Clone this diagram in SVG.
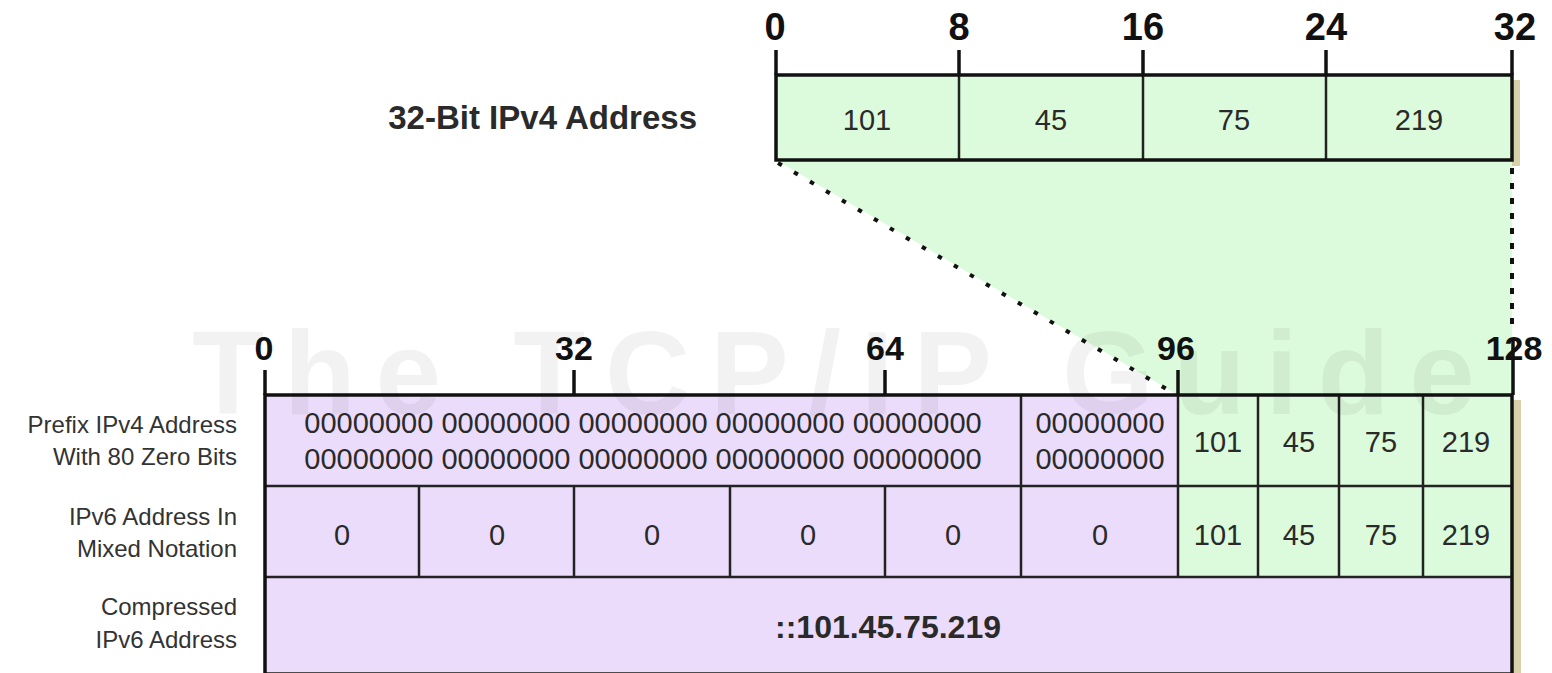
<svg xmlns="http://www.w3.org/2000/svg" width="1552" height="673" viewBox="0 0 1552 673">
  <style>
    text { font-family: "Liberation Sans", Arial, sans-serif; fill: #2a2a2a; }
    .bit { font-weight: bold; fill: #111; text-anchor: middle; }
    .bitTop { font-size: 38px; }
    .bitLow { font-size: 34px; }
    .val { font-size: 29px; text-anchor: middle; }
    .zero { font-size: 29px; text-anchor: middle; }
    .side { font-size: 24px; text-anchor: end; fill: #333; }
    .green { fill: #dcfadc; }
    .purple { fill: #ebdcfb; }
    .shadow { fill: #d8d0a8; }
    .frame { stroke: #111; stroke-width: 3.5; fill: none; }
    .div { stroke: #222; stroke-width: 2.5; fill: none; }
    .tick { stroke: #111; stroke-width: 3.5; }
    .dots { stroke: #111; stroke-width: 4; fill: none; }
    .mark { font-size: 118px; font-weight: bold; fill: #000; fill-opacity: 0.05; }
  </style>

  <rect width="1552" height="673" fill="#ffffff"/>

  <!-- projection of the IPv4 address into the low 32 bits -->
  <g id="projection">
    <polygon class="green" points="776,160 1512,160 1512,395 1178,395"/>
  </g>

  <!-- 32-bit IPv4 address -->
  <g id="ipv4">
    <rect class="shadow" x="1512" y="80" width="8" height="86"/>
    <rect class="green" x="776" y="75" width="736" height="85"/>
    <line class="div" x1="959" y1="75" x2="959" y2="160"/>
    <line class="div" x1="1143" y1="75" x2="1143" y2="160"/>
    <line class="div" x1="1326" y1="75" x2="1326" y2="160"/>
    <rect class="frame" x="776" y="75" width="736" height="85"/>
    <line class="tick" x1="776" y1="50" x2="776" y2="75"/>
    <line class="tick" x1="959" y1="50" x2="959" y2="75"/>
    <line class="tick" x1="1143" y1="50" x2="1143" y2="75"/>
    <line class="tick" x1="1326" y1="50" x2="1326" y2="75"/>
    <line class="tick" x1="1512" y1="50" x2="1512" y2="75"/>
    <text class="bit bitTop" x="775" y="40">0</text>
    <text class="bit bitTop" x="959" y="40">8</text>
    <text class="bit bitTop" x="1143" y="40">16</text>
    <text class="bit bitTop" x="1326" y="40">24</text>
    <text class="bit bitTop" x="1515" y="40">32</text>
    <text class="val" x="867" y="130">101</text>
    <text class="val" x="1051" y="130">45</text>
    <text class="val" x="1234" y="130">75</text>
    <text class="val" x="1419" y="130">219</text>
    <text x="697" y="129" font-size="33" font-weight="bold" text-anchor="end" fill="#222">32-Bit IPv4 Address</text>
  </g>

  <!-- dotted guide lines -->
  <g id="connectors">
    <line class="dots" x1="778" y1="163" x2="1170" y2="391" stroke-dasharray="4.5 14"/>
    <line class="dots" x1="1512" y1="168" x2="1512" y2="330" stroke-dasharray="6 9"/>
  </g>

  <!-- 128-bit IPv6 table -->
  <g id="ipv6">
    <rect class="shadow" x="1512" y="400" width="9" height="273"/>
    <rect class="purple" x="265" y="395" width="1247" height="277"/>
    <rect class="green" x="1178" y="395" width="334" height="182"/>

    <!-- row borders -->
    <line class="div" x1="265" y1="486" x2="1512" y2="486"/>
    <line class="div" x1="265" y1="577" x2="1512" y2="577"/>

    <!-- row 1 dividers -->
    <line class="div" x1="1021" y1="395" x2="1021" y2="486"/>
    <line class="div" x1="1178" y1="395" x2="1178" y2="486"/>
    <line class="div" x1="1258" y1="395" x2="1258" y2="486"/>
    <line class="div" x1="1339" y1="395" x2="1339" y2="486"/>
    <line class="div" x1="1423" y1="395" x2="1423" y2="486"/>

    <!-- row 2 dividers -->
    <line class="div" x1="419" y1="486" x2="419" y2="577"/>
    <line class="div" x1="574" y1="486" x2="574" y2="577"/>
    <line class="div" x1="730" y1="486" x2="730" y2="577"/>
    <line class="div" x1="885" y1="486" x2="885" y2="577"/>
    <line class="div" x1="1021" y1="486" x2="1021" y2="577"/>
    <line class="div" x1="1178" y1="486" x2="1178" y2="577"/>
    <line class="div" x1="1258" y1="486" x2="1258" y2="577"/>
    <line class="div" x1="1339" y1="486" x2="1339" y2="577"/>
    <line class="div" x1="1423" y1="486" x2="1423" y2="577"/>

    <rect class="frame" x="265" y="395" width="1247" height="279"/>

    <!-- bit ruler -->
    <line class="tick" x1="265" y1="370" x2="265" y2="395"/>
    <line class="tick" x1="574" y1="370" x2="574" y2="395"/>
    <line class="tick" x1="885" y1="370" x2="885" y2="395"/>
    <line class="tick" x1="1178" y1="370" x2="1178" y2="395"/>
    <line class="tick" x1="1513" y1="340" x2="1513" y2="395"/>
    <text class="bit bitLow" x="264" y="360">0</text>
    <text class="bit bitLow" x="574" y="360">32</text>
    <text class="bit bitLow" x="885" y="360">64</text>
    <text class="bit bitLow" x="1176" y="360">96</text>
    <text class="bit bitLow" x="1514" y="360">128</text>

    <!-- row 1: prefix with 80 zero bits -->
    <text class="zero" x="643" y="433">00000000 00000000 00000000 00000000 00000000</text>
    <text class="zero" x="643" y="469">00000000 00000000 00000000 00000000 00000000</text>
    <text class="zero" x="1100" y="433">00000000</text>
    <text class="zero" x="1100" y="469">00000000</text>
    <text class="val" x="1218" y="452">101</text>
    <text class="val" x="1299" y="452">45</text>
    <text class="val" x="1381" y="452">75</text>
    <text class="val" x="1466" y="452">219</text>

    <!-- row 2: mixed notation -->
    <text class="val" x="342" y="545">0</text>
    <text class="val" x="497" y="545">0</text>
    <text class="val" x="652" y="545">0</text>
    <text class="val" x="808" y="545">0</text>
    <text class="val" x="953" y="545">0</text>
    <text class="val" x="1100" y="545">0</text>
    <text class="val" x="1218" y="545">101</text>
    <text class="val" x="1299" y="545">45</text>
    <text class="val" x="1381" y="545">75</text>
    <text class="val" x="1466" y="545">219</text>

    <!-- row 3: compressed form -->
    <text x="888" y="638" font-size="32" font-weight="bold" text-anchor="middle" fill="#111">::101.45.75.219</text>
  </g>

  <!-- row captions -->
  <g id="captions">
    <text class="side" x="237" y="433">Prefix IPv4 Address</text>
    <text class="side" x="237" y="465">With 80 Zero Bits</text>
    <text class="side" x="237" y="525">IPv6 Address In</text>
    <text class="side" x="237" y="557">Mixed Notation</text>
    <text class="side" x="237" y="615">Compressed</text>
    <text class="side" x="237" y="648">IPv6 Address</text>
  </g>

  <!-- faint watermark -->
  <text class="mark" x="192" y="414" textLength="1283" lengthAdjust="spacing">The TCP/IP Guide</text>
</svg>
